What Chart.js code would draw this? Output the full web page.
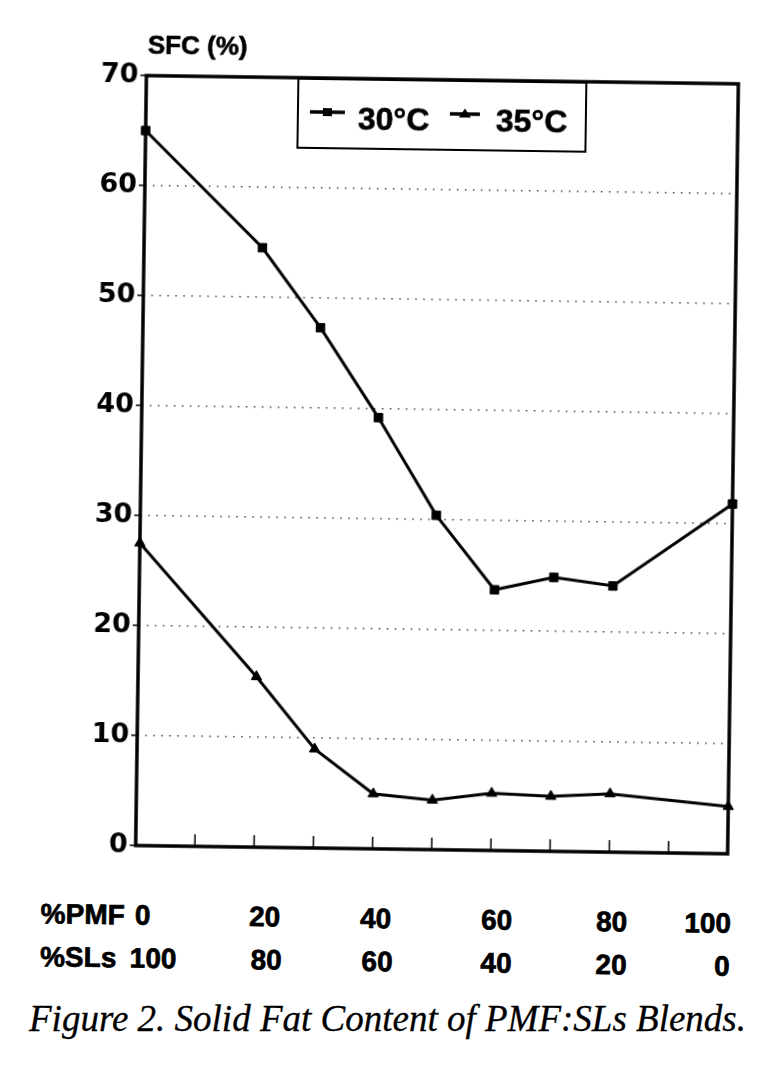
<!DOCTYPE html>
<html><head><meta charset="utf-8">
<script src="https://cdn.jsdelivr.net/npm/chart.js@4.4.1/dist/chart.umd.min.js"></script>
<style>
html,body{margin:0;padding:0;background:#fff;}
body{width:775px;height:1074px;position:relative;overflow:hidden;font-family:'Liberation Sans',Arial,sans-serif;color:#000;}
#rot{position:absolute;left:0;top:0;width:775px;height:1000px;transform-origin:387px 537px;transform:rotate(0.8deg);}
#c{position:absolute;left:0;top:0;}
#ytitle{position:absolute;left:141px;top:35px;font-weight:bold;font-size:26px;line-height:26px;white-space:nowrap;-webkit-text-stroke:0.6px #000;}
#legend{position:absolute;left:291px;top:79px;width:290px;height:71px;box-sizing:border-box;border:2.5px solid #000;background:#fff;}
#legend .t{position:absolute;top:22px;font-weight:bold;font-size:32px;line-height:32px;white-space:nowrap;-webkit-text-stroke:0.6px #000;}
#legend svg{position:absolute;}
#labels span{position:absolute;font-weight:bold;font-size:28px;line-height:28px;white-space:nowrap;-webkit-text-stroke:0.7px #000;}
#caption{position:absolute;left:0;top:1000px;width:775px;text-align:center;font-family:'Liberation Serif','Times New Roman',serif;font-style:italic;font-size:37px;line-height:37px;white-space:nowrap;-webkit-text-stroke:0.3px #000;}
</style>
</head>
<body>
<div id="rot">
  <canvas id="c" width="775" height="880"></canvas>
  <div id="ytitle">SFC (%)</div>
  <div id="legend">
    <svg style="left:10px;top:25px" width="40" height="14"><line x1="1" y1="7" x2="36" y2="7" stroke="#000" stroke-width="3.5"/><rect x="14" y="3" width="9" height="8" fill="#000"/></svg>
    <span class="t" id="lt1" style="left:59px"></span>
    <svg style="left:150px;top:25px" width="40" height="14"><line x1="1" y1="7" x2="31" y2="7" stroke="#000" stroke-width="3.5"/><polygon points="16,1.5 22,10.5 10,10.5" fill="#000"/></svg>
    <span class="t" id="lt2" style="left:197px"></span>
  </div>
  <div id="labels"></div>
</div>
<div id="caption">Figure 2. Solid Fat Content of PMF:SLs Blends.</div>
<script>
// ---- data ----
const xValues = [0, 20, 30, 40, 50, 60, 70, 80, 100];       // % PMF
const sfc30 = [65, 54.5, 47.3, 39.2, 30.4, 23.7, 24.9, 24.2, 31.8];
const sfc35 = [27.5, 15.5, 9.0, 5.0, 4.5, 5.2, 5.0, 5.3, 4.3];
const seriesNames = ['30°C', '35°C'];
const yMin = 0, yMax = 70, yStep = 10;
const xTickValues = [10, 20, 30, 40, 50, 60, 70, 80, 90];
const pmfLabels = ['0', '20', '40', '60', '80', '100'];
const slsLabels = ['100', '80', '60', '40', '20', '0'];
const rowTitles = ['%PMF', '%SLs'];

// ---- layout of the bottom label rows (pixels) ----
const pmfCenters = [148, 270, 381, 502, 617, 713];
const slsCenters = [159, 272, 383, 502, 617, 728];
const rowTops = [905, 948];

document.getElementById('lt1').textContent = seriesNames[0];
document.getElementById('lt2').textContent = seriesNames[1];

const lab = document.getElementById('labels');
function addSpan(text, left, top, center) {
  const s = document.createElement('span');
  s.textContent = text;
  s.style.left = left + 'px';
  s.style.top = top + 'px';
  if (center) s.style.transform = 'translateX(-50%)';
  lab.appendChild(s);
}
addSpan(rowTitles[0], 46, rowTops[0], false);
addSpan(rowTitles[1], 46, rowTops[1], false);
pmfLabels.forEach((t, i) => addSpan(t, pmfCenters[i], rowTops[0], true));
slsLabels.forEach((t, i) => addSpan(t, slsCenters[i], rowTops[1], true));

const framePlugin = {
  id: 'frame',
  beforeDatasetsDraw(chart) {
    const {ctx, chartArea: a, scales: {x}} = chart;
    ctx.save();
    ctx.strokeStyle = '#000';
    ctx.lineWidth = 1.5;
    xTickValues.forEach(v => {
      const px = x.getPixelForValue(v);
      ctx.beginPath();
      ctx.moveTo(px, a.bottom);
      ctx.lineTo(px, a.bottom - 12);
      ctx.stroke();
    });
    ctx.lineWidth = 3.5;
    ctx.strokeRect(a.left, a.top, a.right - a.left, a.bottom - a.top);
    ctx.restore();
  }
};

new Chart(document.getElementById('c'), {
  type: 'line',
  data: {
    datasets: [
      {
        label: seriesNames[0],
        data: xValues.map((v, i) => ({x: v, y: sfc30[i]})),
        borderColor: '#000', backgroundColor: '#000', borderWidth: 3,
        pointStyle: 'rect', pointRadius: 6, pointBorderWidth: 1, tension: 0, clip: false
      },
      {
        label: seriesNames[1],
        data: xValues.map((v, i) => ({x: v, y: sfc35[i]})),
        borderColor: '#000', backgroundColor: '#000', borderWidth: 3,
        pointStyle: 'triangle', pointRadius: 6, pointBorderWidth: 1, tension: 0, clip: false
      }
    ]
  },
  options: {
    responsive: false, animation: false, devicePixelRatio: 1,
    layout: {padding: {left: 0, right: 43, top: 79, bottom: 31}},
    plugins: {legend: {display: false}, tooltip: {enabled: false}},
    scales: {
      x: {type: 'linear', min: 0, max: 100, display: false},
      y: {
        min: yMin, max: yMax,
        ticks: {stepSize: yStep, color: '#000', padding: 2,
                font: {family: 'DejaVu Sans', weight: 'bold', size: 27}},
        grid: {color: '#444', lineWidth: 1.5, tickLength: 6, tickColor: '#000', tickWidth: 1.5, tickBorderDash: []},
        border: {display: false, dash: [1.5, 6.5]},
        afterFit(s) { s.width = 140; }
      }
    }
  },
  plugins: [framePlugin]
});
</script>
</body></html>
